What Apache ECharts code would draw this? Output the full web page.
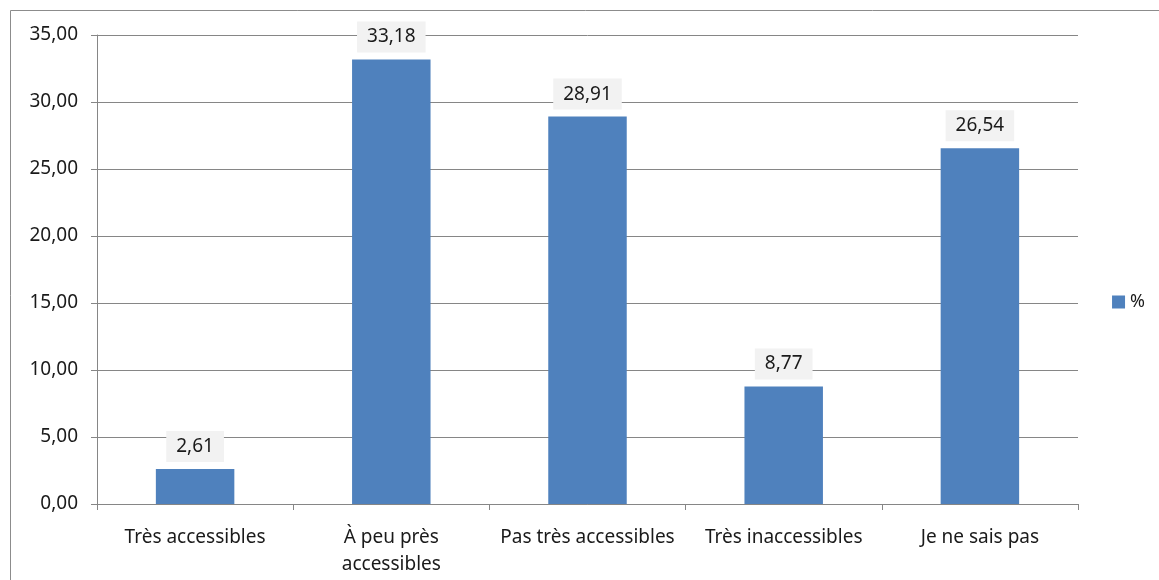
<!DOCTYPE html>
<html>
<head>
<meta charset="utf-8">
<script src="https://cdn.jsdelivr.net/npm/echarts@6/dist/echarts.min.js"></script>
<style>html,body{margin:0;padding:0;background:#fff}#c{width:1159px;height:580px}</style>
</head>
<body>
<div id="c"></div>
<script>
const categories = ["Très accessibles", "À peu près\naccessibles", "Pas très accessibles", "Très inaccessibles", "Je ne sais pas"];
const values = [2.61, 33.18, 28.91, 8.77, 26.54];
const seriesName = "%";
const yMin = 0, yMax = 35, yStep = 5;

const fmt = v => v.toFixed(2).replace('.', ',');
const font = "Noto Sans";
const txt = '#1a1a1a';
const chart = echarts.init(document.getElementById('c'), null, {renderer: 'canvas'});
chart.setOption({
  animation: false,
  backgroundColor: '#fff',
  textStyle: {fontFamily: font},
  graphic: [{
    type: 'rect', silent: true, z: -1,
    shape: {x: 10.5, y: 10.5, width: 1200, height: 700},
    style: {fill: 'none', stroke: '#8c8c8c', lineWidth: 1}
  }],
  grid: {left: 97, right: 81, top: 35, bottom: 76, containLabel: false},
  legend: {
    right: 9, top: 288, orient: 'vertical',
    itemWidth: 13, itemHeight: 13, itemGap: 6,
    icon: 'rect',
    textStyle: {fontFamily: font, fontSize: 18, color: txt},
    data: [seriesName]
  },
  xAxis: {
    type: 'category', data: categories,
    axisLine: {lineStyle: {color: '#868686', width: 1}},
    axisTick: {show: true, length: 6, alignWithLabel: false, lineStyle: {color: '#868686'}},
    axisLabel: {fontFamily: font, fontSize: 19, color: txt, margin: 20, lineHeight: 27, interval: 0}
  },
  yAxis: {
    type: 'value', min: yMin, max: yMax, interval: yStep,
    axisLine: {show: true, lineStyle: {color: '#868686', width: 1}},
    axisTick: {show: true, length: 6, lineStyle: {color: '#868686'}},
    splitLine: {lineStyle: {color: '#868686', width: 1}},
    axisLabel: {fontFamily: font, fontSize: 19, color: txt, margin: 19, formatter: v => fmt(v)}
  },
  series: [{
    name: seriesName, type: 'bar', data: values, barWidth: '40%',
    itemStyle: {color: '#4F81BD'},
    label: {
      show: true, position: 'top', distance: 7,
      formatter: p => fmt(p.value),
      fontFamily: font, fontSize: 19, lineHeight: 19, color: txt,
      backgroundColor: '#F2F2F2', padding: [6, 10, 6, 10]
    }
  }]
});
</script>
</body>
</html>
